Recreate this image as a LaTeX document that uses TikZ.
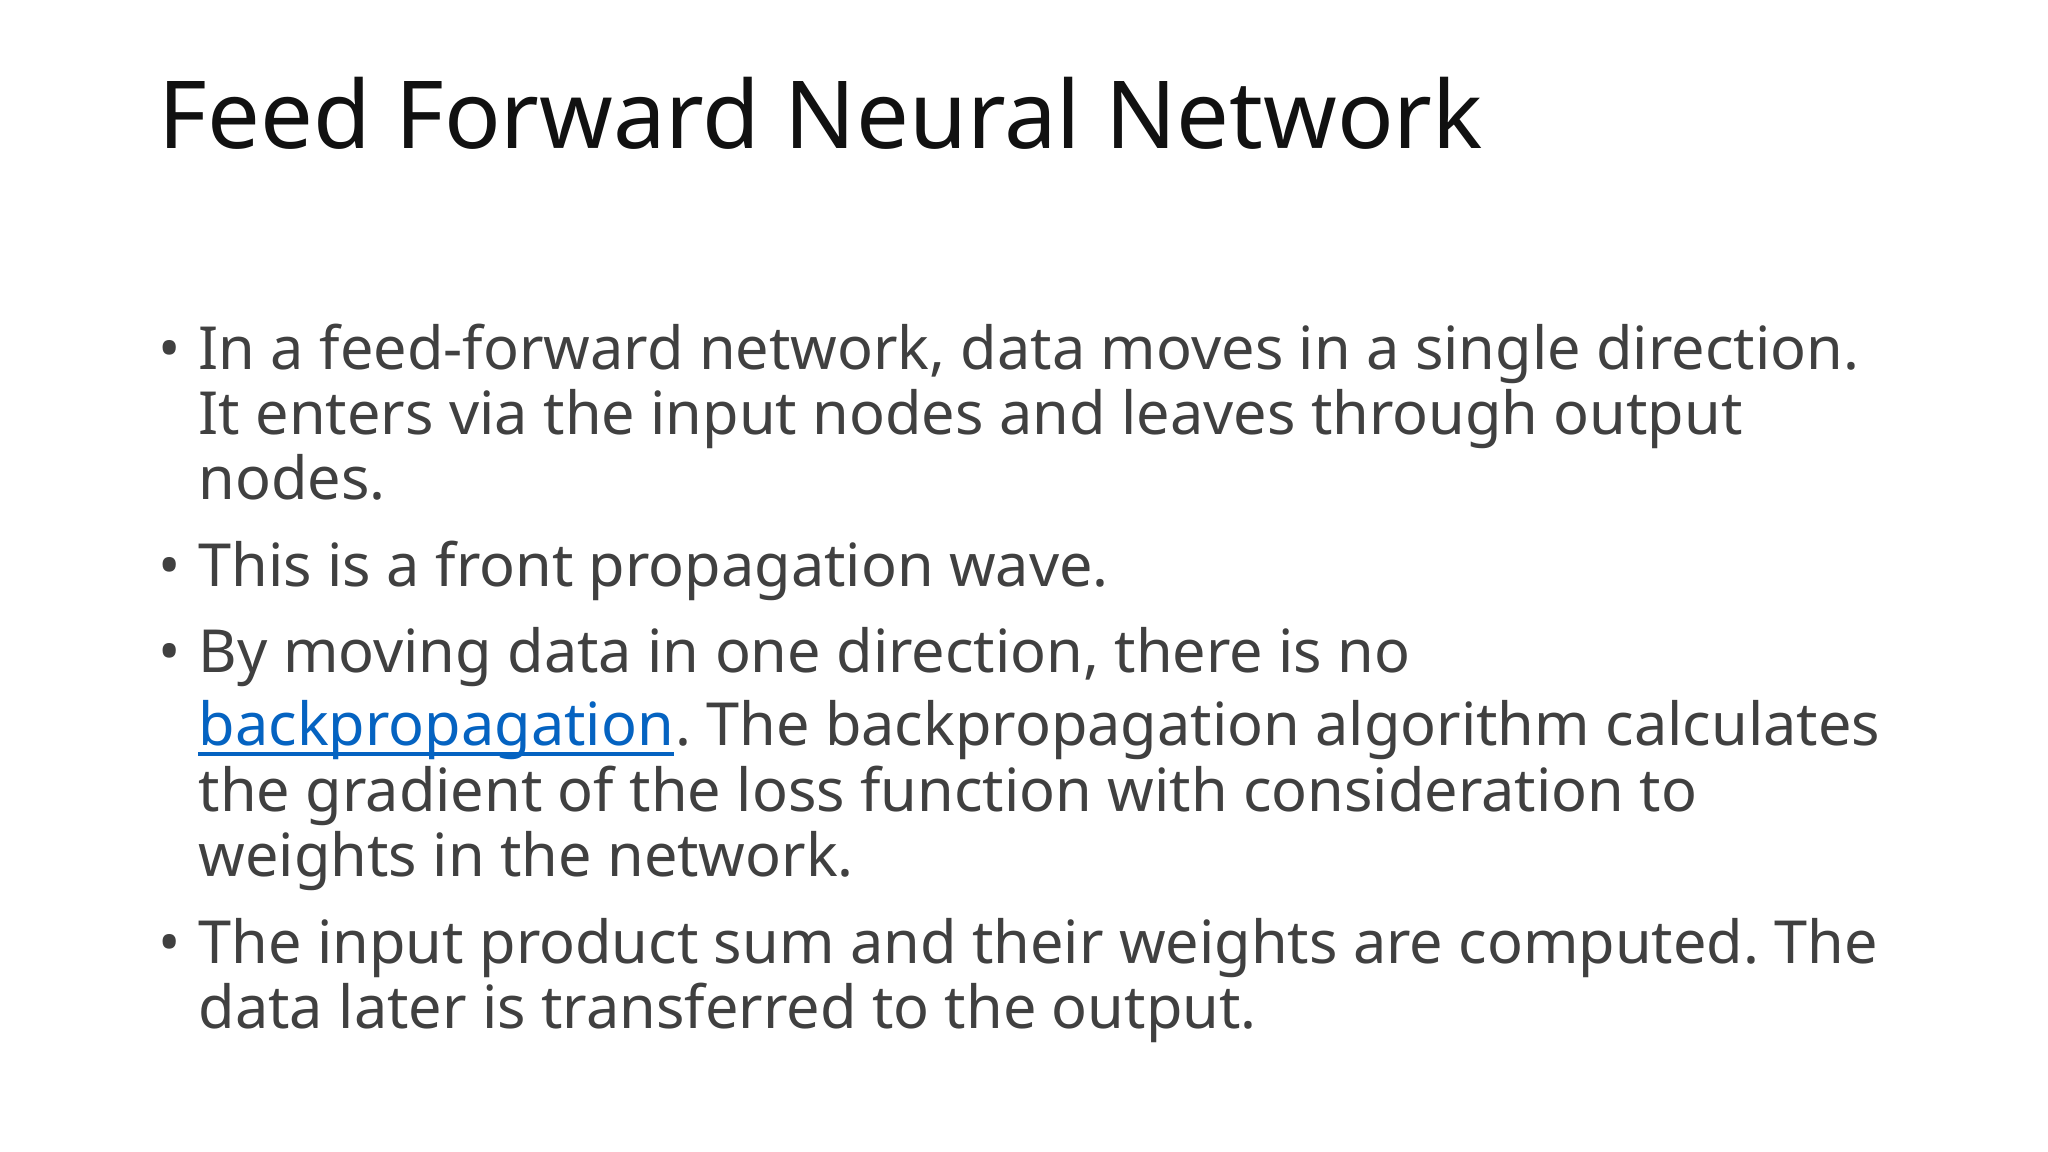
\documentclass[tikz,border=0pt]{standalone}
\usepackage{fontspec}
\setmainfont{Noto Sans}
\definecolor{body}{HTML}{404040}
\definecolor{ttl}{HTML}{111111}
\definecolor{link}{HTML}{0563C1}
\frenchspacing
\begin{document}
\begin{tikzpicture}[
  ln/.style={anchor=base west,inner sep=0pt,text=body,font=\fontsize{16.9pt}{20pt}\selectfont},
  bul/.style={anchor=base west,inner sep=0pt,text=body,font=\fontsize{16.9pt}{20pt}\selectfont}]
\useasboundingbox[fill=white] (0,0) rectangle (20.48,-11.52);
\node[anchor=base west,inner sep=0pt,text=ttl,font=\fontsize{26.7pt}{32pt}\selectfont] (title) at (1.58,-1.49) {Feed Forward Neural Network};
\node[bul] (b1) at (1.58,-3.70) {•};
\node[ln] (l1) at (1.98,-3.70) {In a feed-forward network, data moves in a single direction.};
\node[ln] (l2) at (1.98,-4.35) {It enters via the input nodes and leaves through output};
\node[ln] (l3) at (1.98,-5.00) {nodes.};
\node[bul] (b2) at (1.58,-5.87) {•};
\node[ln] (l4) at (1.98,-5.87) {This is a front propagation wave.};
\node[bul] (b3) at (1.58,-6.73) {•};
\node[ln] (l5) at (1.98,-6.73) {By moving data in one direction, there is no};
\node[ln] (lk) at (1.98,-7.45) {\textcolor{link}{backpropagation}};
\node[ln] (l6) at (lk.base east) {. The backpropagation algorithm calculates};
\draw[link,line width=0.9pt] ([yshift=-0.09cm]lk.base west) -- ([yshift=-0.09cm]lk.base east);
\node[ln] (l7) at (1.98,-8.11) {the gradient of the loss function with consideration to};
\node[ln] (l8) at (1.98,-8.76) {weights in the network.};
\node[bul] (b4) at (1.58,-9.63) {•};
\node[ln] (l9) at (1.98,-9.63) {The input product sum and their weights are computed. The};
\node[ln] (l10) at (1.98,-10.28) {data later is transferred to the output.};
\end{tikzpicture}
\end{document}
